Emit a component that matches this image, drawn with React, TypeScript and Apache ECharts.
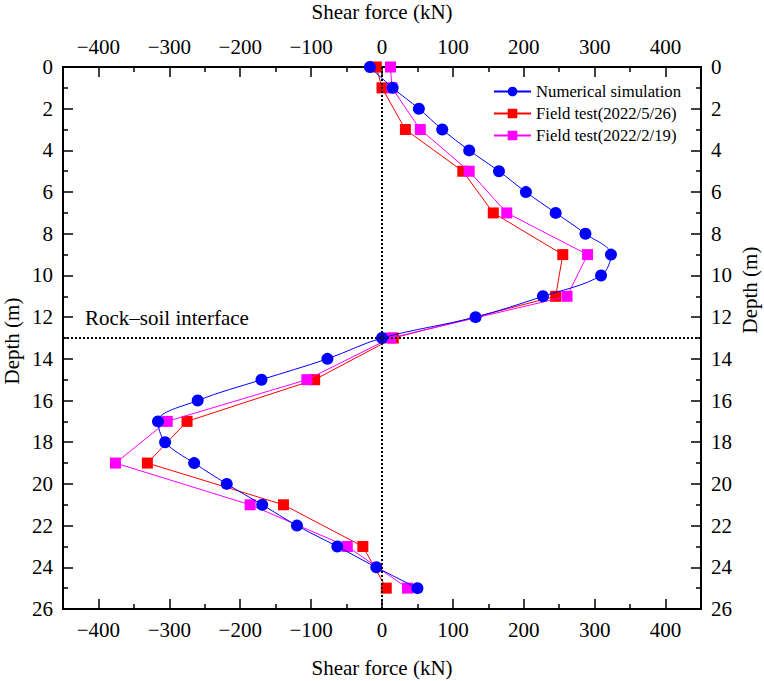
import React, { useEffect, useRef } from "react";
import * as echarts from "echarts";

// Depth of each measuring point (m)
const depthSim = [0, 1, 2, 3, 4, 5, 6, 7, 8, 9, 10, 11, 12, 13, 14, 15, 16, 17, 18, 19, 20, 21, 22, 23, 24, 25];
// Numerical simulation shear force (kN)
const shearSim = [-17, 15, 52, 85, 123, 165, 203, 245, 287, 323, 309, 227, 132, 0, -77, -170, -260, -316, -306, -265, -219, -169, -120, -63, -8, 50];

const depthField = [0, 1, 3, 5, 7, 9, 11, 13, 15, 17, 19, 21, 23, 25];
// Field test 2022/5/26 shear force (kN)
const shearMay = [-8, 0, 33, 114, 157, 255, 245, 16, -95, -275, -331, -139, -27, 6];
// Field test 2022/2/19 shear force (kN)
const shearFeb = [12, 14, 54, 123, 176, 290, 261, 12, -106, -303, -376, -186, -49, 36];

const xMajorTicks = [-400, -300, -200, -100, 0, 100, 200, 300, 400];
const xMinorTicks = [-350, -250, -150, -50, 50, 150, 250, 350];

const interfaceDepth = 13;
const zeroShear = 0;

const FONT = "Liberation Serif";

export default function App() {
  const ref = useRef<HTMLDivElement>(null);

  useEffect(() => {
    document.body.style.margin = "0";
    if (!ref.current) return;
    const chart = echarts.init(ref.current, undefined, { renderer: "svg" });

    const axisLineStyle = { color: "#000", width: 2 };
    const tickStyle = { color: "#000", width: 1.5 };
    const labelStyle = {
      color: "#000",
      fontSize: 21,
      fontFamily: FONT,
      margin: 10,
      formatter: (v: number) => String(v).replace("-", "\u2212"),
    };

    const majorX = (position: "top" | "bottom") => ({
      type: "value",
      position,
      min: -450,
      max: 450,
      axisLine: { show: true, onZero: false, lineStyle: axisLineStyle },
      axisTick: { show: true, inside: true, length: 10, customValues: xMajorTicks, lineStyle: tickStyle },
      axisLabel: { ...labelStyle, customValues: xMajorTicks },
      splitLine: { show: false },
    });
    const minorX = (position: "top" | "bottom") => ({
      type: "value",
      position,
      min: -450,
      max: 450,
      axisLine: { show: false, onZero: false },
      axisTick: { show: true, inside: true, length: 5, customValues: xMinorTicks, lineStyle: tickStyle },
      axisLabel: { show: false },
      splitLine: { show: false },
    });
    const depthAxis = (position: "left" | "right") => ({
      type: "value",
      position,
      inverse: true,
      min: 0,
      max: 26,
      interval: 2,
      axisLine: { show: true, onZero: false, lineStyle: axisLineStyle },
      axisTick: { show: true, inside: true, length: 10, lineStyle: tickStyle },
      minorTick: { show: true, splitNumber: 2, length: 5, lineStyle: tickStyle },
      axisLabel: { ...labelStyle },
      splitLine: { show: false },
    });

    const titleText = (text: string, x: number, y: number, rotation = 0, align = "center") => ({
      type: "text",
      x,
      y,
      rotation,
      style: {
        text,
        fill: "#000",
        fontSize: 21,
        fontFamily: FONT,
        textAlign: align,
        textVerticalAlign: "middle",
      },
    });

    chart.setOption({
      animation: false,
      backgroundColor: "#fff",
      textStyle: { fontFamily: FONT },
      grid: { left: 63, top: 67, width: 638, height: 542, containLabel: false },
      xAxis: [majorX("bottom"), majorX("top"), minorX("bottom"), minorX("top")],
      yAxis: [depthAxis("left"), depthAxis("right")],
      legend: {
        data: ["Numerical simulation", "Field test(2022/5/26)", "Field test(2022/2/19)"],
        orient: "vertical",
        left: 488,
        top: 78,
        itemWidth: 37,
        itemHeight: 12,
        itemGap: 5,
        textStyle: { color: "#000", fontSize: 16.7, fontFamily: FONT },
      },
      graphic: [
        titleText("Shear force (kN)", 382, 12),
        titleText("Shear force (kN)", 382, 668),
        titleText("Depth (m)", 12, 341, Math.PI / 2),
        titleText("Depth (m)", 750, 290, Math.PI / 2),
        titleText("Rock\u2013soil interface", 85, 318, 0, "left"),
      ],
      series: [
        {
          name: "Field test(2022/5/26)",
          type: "line",
          xAxisIndex: 0,
          yAxisIndex: 0,
          data: depthField.map((d, i) => [shearMay[i], d]),
          symbol: "rect",
          symbolSize: 11,
          itemStyle: { color: "#FF0000" },
          lineStyle: { color: "#FF0000", width: 1 },
          z: 2,
        },
        {
          name: "Field test(2022/2/19)",
          type: "line",
          xAxisIndex: 0,
          yAxisIndex: 0,
          data: depthField.map((d, i) => [shearFeb[i], d]),
          symbol: "rect",
          symbolSize: 11,
          itemStyle: { color: "#FF00FF" },
          lineStyle: { color: "#FF00FF", width: 1 },
          z: 3,
        },
        {
          name: "Numerical simulation",
          type: "line",
          xAxisIndex: 0,
          yAxisIndex: 0,
          data: depthSim.map((d, i) => [shearSim[i], d]),
          smooth: 0.35,
          symbol: "circle",
          symbolSize: 12,
          itemStyle: { color: "#0000FF" },
          lineStyle: { color: "#0000FF", width: 1 },
          z: 4,
        },
        {
          name: "reference lines",
          type: "line",
          xAxisIndex: 0,
          yAxisIndex: 0,
          data: [],
          z: 6,
          markLine: {
            silent: true,
            symbol: "none",
            label: { show: false },
            lineStyle: { color: "#000", width: 2, type: [2, 2] },
            data: [{ xAxis: zeroShear }, { yAxis: interfaceDepth }],
          },
        },
      ],
    });

    return () => chart.dispose();
  }, []);

  return <div ref={ref} style={{ width: 764, height: 681 }} />;
}
